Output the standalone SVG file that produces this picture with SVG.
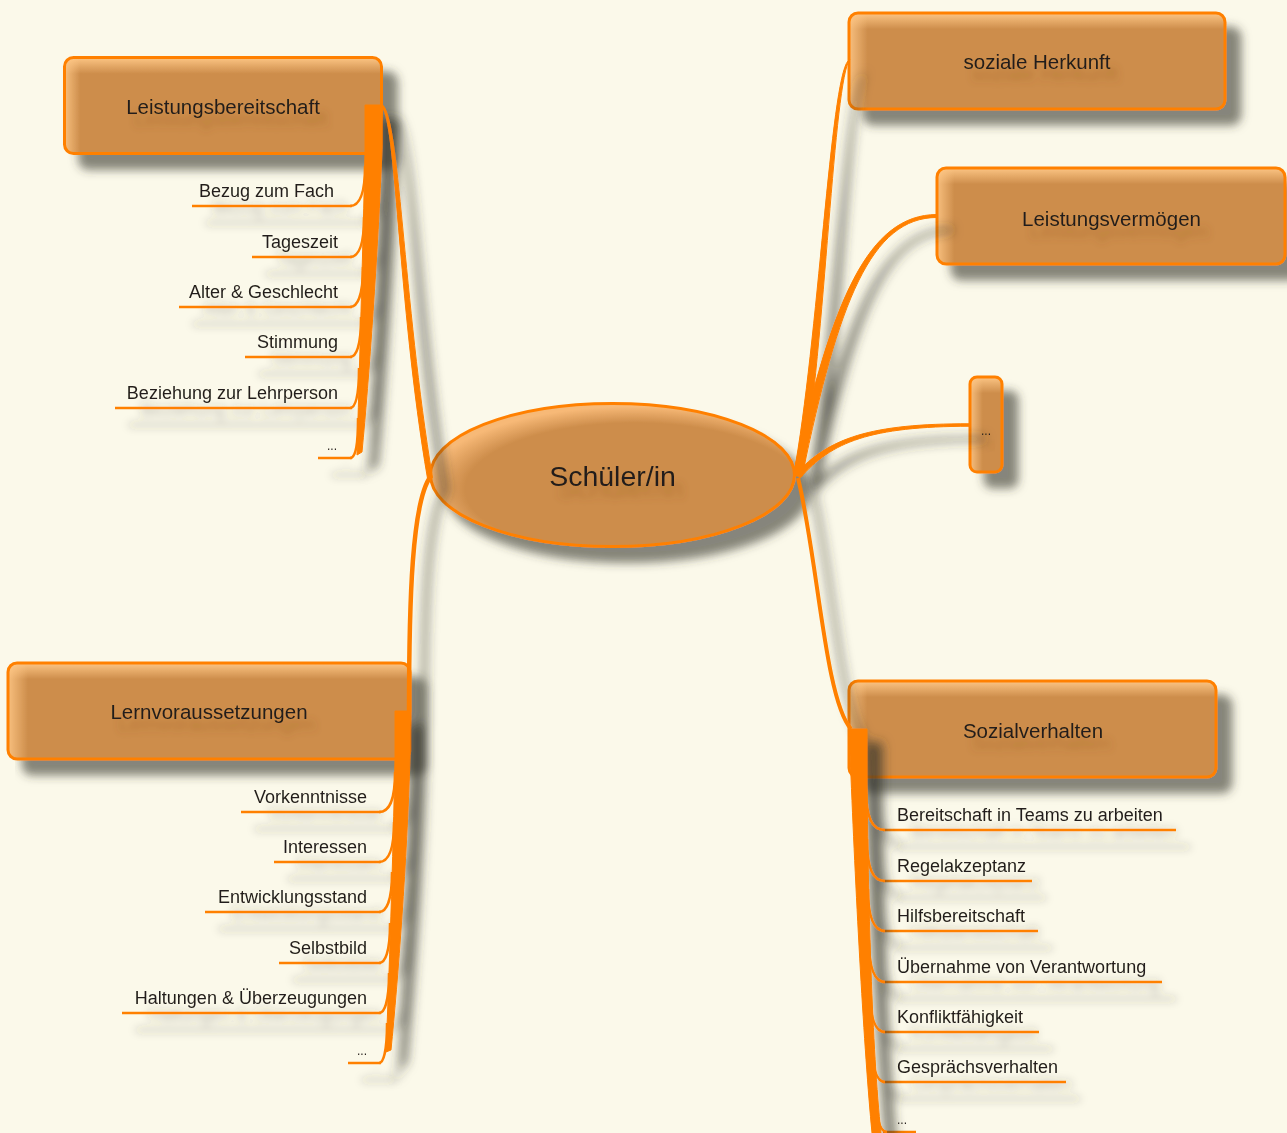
<svg xmlns="http://www.w3.org/2000/svg" width="1287" height="1133" viewBox="0 0 1287 1133">
<defs>
<style>
.box{fill:#CD8D4B;stroke:none}
.gt{fill:url(#gTop);stroke:none}
.gl{fill:url(#gLeft);stroke:none}
.rim{fill:none;stroke:#FF8000;stroke-width:3}
.title{font-family:"Liberation Sans",Arial,sans-serif;font-size:20.5px;fill:#231f1a;text-anchor:middle;filter:url(#tsh)}
.ct{font-family:"Liberation Sans",Arial,sans-serif;font-size:18px;fill:#231f1a}
.dots{font-size:12px}
.end{text-anchor:end}
.ul{fill:none;stroke:#FF8000;stroke-width:2.5}
.child{filter:url(#shc)}
.node{filter:url(#sh)}
.cn{fill:none;stroke:#FF8000;stroke-width:2.5}
.rb{fill:#FF8000;stroke:#FF8000;stroke-width:1}
</style>
<linearGradient id="gTop" x1="0" y1="0" x2="0" y2="1">
<stop offset="0" stop-color="#FFC887" stop-opacity="0.95"/>
<stop offset="0.17" stop-color="#FFC887" stop-opacity="0"/>
</linearGradient>
<linearGradient id="gLeft" x1="0" y1="0" x2="1" y2="0">
<stop offset="0" stop-color="#FFC887" stop-opacity="0.85"/>
<stop offset="0.05" stop-color="#FFC887" stop-opacity="0"/>
</linearGradient>
<linearGradient id="gLeftN" x1="0" y1="0" x2="1" y2="0">
<stop offset="0" stop-color="#FFC887" stop-opacity="0.85"/>
<stop offset="0.4" stop-color="#FFC887" stop-opacity="0"/>
</linearGradient>
<radialGradient id="gEll" cx="0.56" cy="0.6" r="0.58">
<stop offset="0" stop-color="#CD8D4B"/>
<stop offset="0.8" stop-color="#CD8D4B"/>
<stop offset="1" stop-color="#F7B977"/>
</radialGradient>
<filter id="sh" filterUnits="userSpaceOnUse" x="0" y="0" width="1287" height="1133">
<feGaussianBlur in="SourceAlpha" stdDeviation="5"/>
<feOffset dx="15" dy="15" result="ob"/>
<feFlood flood-color="#3a3a30" flood-opacity="0.6"/>
<feComposite in2="ob" operator="in" result="s"/>
<feMerge><feMergeNode in="s"/><feMergeNode in="SourceGraphic"/></feMerge>
</filter>
<filter id="shk" filterUnits="userSpaceOnUse" x="0" y="0" width="1287" height="1133">
<feGaussianBlur in="SourceAlpha" stdDeviation="5.5"/>
<feOffset dx="15" dy="14" result="ob"/>
<feFlood flood-color="#33332a" flood-opacity="0.72"/>
<feComposite in2="ob" operator="in" result="s"/>
<feMerge><feMergeNode in="s"/><feMergeNode in="SourceGraphic"/></feMerge>
</filter>
<filter id="shc" filterUnits="userSpaceOnUse" x="0" y="0" width="1287" height="1133">
<feGaussianBlur in="SourceAlpha" stdDeviation="4"/>
<feOffset dx="14" dy="17" result="ob"/>
<feFlood flood-color="#3a3a30" flood-opacity="0.36"/>
<feComposite in2="ob" operator="in" result="s"/>
<feMerge><feMergeNode in="s"/><feMergeNode in="SourceGraphic"/></feMerge>
</filter>
<filter id="tsh" x="-20%" y="-50%" width="150%" height="250%">
<feGaussianBlur in="SourceAlpha" stdDeviation="3.5"/>
<feOffset dx="8" dy="12" result="ob"/>
<feFlood flood-color="#7a4510" flood-opacity="0.3"/>
<feComposite in2="ob" operator="in" result="s"/>
<feMerge><feMergeNode in="s"/><feMergeNode in="SourceGraphic"/></feMerge>
</filter>
</defs>
<rect x="0" y="0" width="1287" height="1133" fill="#FBF9EA"/>

<g id="nodes">
<g id="center" class="node">
<ellipse cx="612.5" cy="475" rx="182" ry="71.5" fill="url(#gEll)" stroke="#FF8000" stroke-width="3"/>
<text class="title" x="612.5" y="486" style="font-size:28.5px">Schüler/in</text>
</g>
<g id="leistungsbereitschaft" class="node">
<rect class="box" x="64.5" y="57.5" width="317" height="96" rx="9"/>
<rect class="gt" x="64.5" y="57.5" width="317" height="96" rx="9"/>
<rect class="gl" x="64.5" y="57.5" width="317" height="96" rx="9"/>
<rect class="rim" x="64.5" y="57.5" width="317" height="96" rx="9"/>
<text class="title" x="223" y="114">Leistungsbereitschaft</text>
</g>
<g id="soziale-herkunft" class="node">
<rect class="box" x="849" y="13" width="376" height="96" rx="9"/>
<rect class="gt" x="849" y="13" width="376" height="96" rx="9"/>
<rect class="gl" x="849" y="13" width="376" height="96" rx="9"/>
<rect class="rim" x="849" y="13" width="376" height="96" rx="9"/>
<text class="title" x="1037" y="69">soziale Herkunft</text>
</g>
<g id="leistungsvermoegen" class="node">
<rect class="box" x="937" y="168" width="348" height="96" rx="9"/>
<rect class="gt" x="937" y="168" width="348" height="96" rx="9"/>
<rect class="gl" x="937" y="168" width="348" height="96" rx="9"/>
<rect class="rim" x="937" y="168" width="348" height="96" rx="9"/>
<text class="title" x="1111.5" y="226">Leistungsvermögen</text>
</g>
<g id="weitere" class="node">
<rect class="box" x="970" y="377" width="32" height="95" rx="7"/>
<rect class="gt" x="970" y="377" width="32" height="95" rx="7"/>
<rect x="970" y="377" width="32" height="95" rx="7" fill="url(#gLeftN)"/>
<rect class="rim" x="970" y="377" width="32" height="95" rx="7"/>
<text class="title" x="986" y="435" style="font-size:12px">...</text>
</g>
<g id="lernvoraussetzungen" class="node">
<rect class="box" x="8" y="663" width="402" height="96" rx="9"/>
<rect class="gt" x="8" y="663" width="402" height="96" rx="9"/>
<rect class="gl" x="8" y="663" width="402" height="96" rx="9"/>
<rect class="rim" x="8" y="663" width="402" height="96" rx="9"/>
<text class="title" x="209" y="719">Lernvoraussetzungen</text>
</g>
<g id="sozialverhalten" class="node">
<rect class="box" x="849" y="681" width="367" height="96" rx="9"/>
<rect class="gt" x="849" y="681" width="367" height="96" rx="9"/>
<rect class="gl" x="849" y="681" width="367" height="96" rx="9"/>
<rect class="rim" x="849" y="681" width="367" height="96" rx="9"/>
<text class="title" x="1033" y="738">Sozialverhalten</text>
</g>

<g id="lb-children">
<g id="lb1" class="child"><path class="ul" d="M192,206 H352"/><text class="ct end" x="334" y="197">Bezug zum Fach</text></g>
<g id="lb2" class="child"><path class="ul" d="M252,257 H352"/><text class="ct end" x="338" y="248">Tageszeit</text></g>
<g id="lb3" class="child"><path class="ul" d="M179,307 H352"/><text class="ct end" x="338" y="298">Alter &amp; Geschlecht</text></g>
<g id="lb4" class="child"><path class="ul" d="M245,357 H352"/><text class="ct end" x="338" y="348">Stimmung</text></g>
<g id="lb5" class="child"><path class="ul" d="M115,408 H352"/><text class="ct end" x="338" y="399">Beziehung zur Lehrperson</text></g>
<g id="lb6" class="child"><path class="ul" d="M318,458 H352"/><text class="ct end dots" x="337" y="450">...</text></g>
</g>
<g id="lv-children">
<g id="lv1" class="child"><path class="ul" d="M241,812 H381"/><text class="ct end" x="367" y="803">Vorkenntnisse</text></g>
<g id="lv2" class="child"><path class="ul" d="M274,862 H381"/><text class="ct end" x="367" y="853">Interessen</text></g>
<g id="lv3" class="child"><path class="ul" d="M205,912 H381"/><text class="ct end" x="367" y="903">Entwicklungsstand</text></g>
<g id="lv4" class="child"><path class="ul" d="M279,963 H381"/><text class="ct end" x="367" y="954">Selbstbild</text></g>
<g id="lv5" class="child"><path class="ul" d="M122,1013 H381"/><text class="ct end" x="367" y="1004">Haltungen &amp; Überzeugungen</text></g>
<g id="lv6" class="child"><path class="ul" d="M348,1063 H381"/><text class="ct end dots" x="367" y="1055">...</text></g>
</g>
<g id="sv-children">
<g id="sv1" class="child"><path class="ul" d="M883,830 H1176"/><text class="ct" x="897" y="821">Bereitschaft in Teams zu arbeiten</text></g>
<g id="sv2" class="child"><path class="ul" d="M883,881 H1032"/><text class="ct" x="897" y="872">Regelakzeptanz</text></g>
<g id="sv3" class="child"><path class="ul" d="M883,931 H1038"/><text class="ct" x="897" y="922">Hilfsbereitschaft</text></g>
<g id="sv4" class="child"><path class="ul" d="M883,982 H1162"/><text class="ct" x="897" y="973">Übernahme von Verantwortung</text></g>
<g id="sv5" class="child"><path class="ul" d="M883,1032 H1039"/><text class="ct" x="897" y="1023">Konfliktfähigkeit</text></g>
<g id="sv6" class="child"><path class="ul" d="M883,1082 H1066"/><text class="ct" x="897" y="1073">Gesprächsverhalten</text></g>
<g id="sv7" class="child"><path class="ul" d="M883,1132 H916"/><text class="ct dots" x="897" y="1124">...</text></g>
</g>
</g>

<g id="connectors" filter="url(#shk)">
<path class="rb" d="M380.6,105.9 C396.5,112.15 397,300.3 427.5,478.4 L432.5,477.6 C403,299.7 399.5,111.85 381.4,104.1 Z"/>
<path class="cn" d="M409,712 C409,600 412,500 431,476" style="stroke-width:4.5"/>
<path class="rb" d="M793.5,476 C818.5,340 830.5,80 848,61 L850,59 C833.5,80 825.5,340 802.5,476 Z"/>
<path class="rb" d="M793.6,473.1 C831.6,299.1 868.7,214.5 937,214.5 L937,217.5 C871.3,217.5 838.4,300.9 802.4,474.9 Z"/>
<path class="rb" d="M795.8,474 C828.7,438.2 869.8,423.5 970,423.75 L970,426.25 C870.2,426.5 831.3,441.8 800.2,478 Z"/>
<path class="cn" d="M798,478 C818,560 825,700 851,729" style="stroke-width:4"/>

<path class="rb" d="M365,105 L382,105 L382,150 C378,250 369,380 362,452 L357,455 C359,380 363,250 365,150 Z"/>
<path class="cn" d="M365,166 C365,196 359,206 350,206"/>
<path class="cn" d="M364,217 C364,247 358,257 350,257"/>
<path class="cn" d="M363,267 C363,297 357,307 350,307"/>
<path class="cn" d="M361,317 C361,347 356,357 350,357"/>
<path class="cn" d="M359,368 C359,398 355,408 350,408"/>
<path class="cn" d="M358,418 C358,448 355,458 350,458"/>

<path class="rb" d="M395,711 L410,711 L410,757 C407,860 398,980 391,1050 L386,1052 C389,980 393,860 395,757 Z"/>
<path class="cn" d="M395,772 C395,802 389,812 379,812"/>
<path class="cn" d="M394,822 C394,852 388,862 379,862"/>
<path class="cn" d="M392,872 C392,902 386,912 379,912"/>
<path class="cn" d="M390,923 C390,953 385,963 379,963"/>
<path class="cn" d="M389,973 C389,1003 384,1013 379,1013"/>
<path class="cn" d="M387,1023 C387,1053 383,1063 379,1063"/>

<path class="rb" d="M849,729 L867,729 L867,777 C868,900 872,1050 881,1133 L872,1133 C864,1050 856,900 851,777 Z"/>
<path class="cn" d="M866,788 C866,818 872,830 885,830"/>
<path class="cn" d="M867,839 C867,869 873,881 885,881"/>
<path class="cn" d="M868,889 C868,919 874,931 885,931"/>
<path class="cn" d="M869,940 C869,970 875,982 885,982"/>
<path class="cn" d="M870,990 C870,1020 876,1032 885,1032"/>
<path class="cn" d="M872,1040 C872,1070 877,1082 885,1082"/>
<path class="cn" d="M876,1090 C876,1120 880,1132 887,1132"/>
</g>
</svg>
